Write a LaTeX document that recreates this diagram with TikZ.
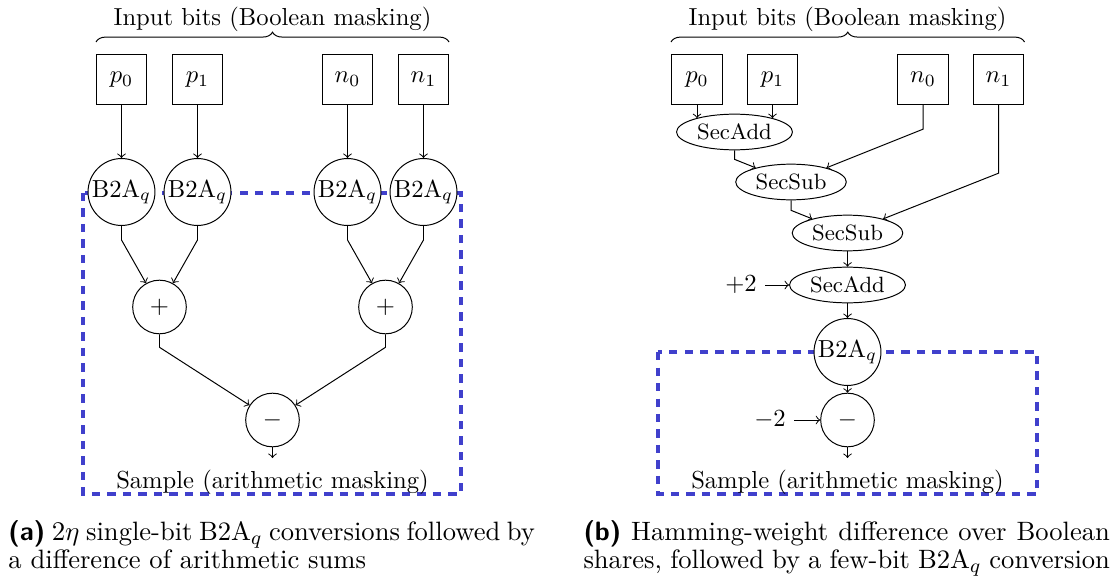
\documentclass[tikz,border=0pt]{standalone}
\usetikzlibrary{shapes.geometric,decorations.pathreplacing,calc}
\definecolor{dashblue}{RGB}{64,64,204}
\newcommand{\captlabel}[1]{{\fontseries{sbc}\sffamily #1}}
\begin{document}
\begin{tikzpicture}[x=0.4065pt,y=-0.4065pt,
  bitbox/.style={draw,minimum size=20.5pt,inner sep=0pt},
  conv/.style={draw,circle,fill=white,minimum size=27.2pt,inner sep=0pt},
  opc/.style={draw,circle,fill=white,minimum size=21.8pt,inner sep=0pt},
  secop/.style={draw,ellipse,fill=white,minimum height=14.5pt,inner xsep=1.5pt,inner ysep=0pt,font=\small},
  region/.style={draw=dashblue,dash pattern=on 3.3pt off 3pt,line width=1.3pt},
  bracedeco/.style={decorate,decoration={brace,amplitude=4pt}},
  lbl/.style={inner sep=0pt,anchor=base},
  capt/.style={anchor=base west,text width=214pt,align=justify,inner sep=0pt,font=\fontsize{10.8pt}{11.6pt}\selectfont}
]
\useasboundingbox (0,0) rectangle (1116,581);

% ---------------- panel (a) ----------------
\draw[region] (83,193) rectangle (461,494);
\node[lbl] (tA) at (272.5,26) {Input bits (Boolean masking)};
\draw[bracedeco] (96,42) -- (449,42);

\node[bitbox] (ap0) at (121.5,79.5) {$p_0$};
\node[bitbox] (ap1) at (197.5,79.5) {$p_1$};
\node[bitbox] (an0) at (347.5,79.5) {$n_0$};
\node[bitbox] (an1) at (423.5,79.5) {$n_1$};

\node[conv] (ab0) at (121.5,192) {B2A$_q$};
\node[conv] (ab1) at (197.5,192) {B2A$_q$};
\node[conv] (ab2) at (347.5,192) {B2A$_q$};
\node[conv] (ab3) at (423.5,192) {B2A$_q$};

\node[opc] (aplus1) at (159.5,307) {$+$};
\node[opc] (aplus2) at (385.5,307) {$+$};
\node[opc] (aminus) at (272.5,420) {$-$};
\coordinate (aout) at (272.5,458);
\node[lbl] (sA) at (272.5,488) {Sample (arithmetic masking)};

\draw[->] (ap0) -- (ab0);
\draw[->] (ap1) -- (ab1);
\draw[->] (an0) -- (ab2);
\draw[->] (an1) -- (ab3);
\draw[->] (ab0.south) -- ++(0,14) -- (aplus1);
\draw[->] (ab1.south) -- ++(0,14) -- (aplus1);
\draw[->] (ab2.south) -- ++(0,14) -- (aplus2);
\draw[->] (ab3.south) -- ++(0,14) -- (aplus2);
\draw[->] (aplus1.south) -- ++(0,13) -- (aminus);
\draw[->] (aplus2.south) -- ++(0,13) -- (aminus);
\draw[->] (aminus.south) -- (aout);

% ---------------- panel (b) ----------------
\draw[region] (658,352) rectangle (1037,494);
\node[lbl] (tB) at (847.5,26) {Input bits (Boolean masking)};
\draw[bracedeco] (671,42) -- (1024.5,42);

\node[bitbox] (bp0) at (697,79.5) {$p_0$};
\node[bitbox] (bp1) at (772.5,79.5) {$p_1$};
\node[bitbox] (bn0) at (923,79.5) {$n_0$};
\node[bitbox] (bn1) at (998.5,79.5) {$n_1$};

\node[secop] (badd1) at (734.5,132) {SecAdd};
\node[secop] (bsub1) at (791,182) {SecSub};
\node[secop] (bsub2) at (847.5,233) {SecSub};
\node[secop] (badd2) at (847.5,285) {SecAdd};
\node[conv] (bb2a) at (847.5,352) {B2A$_q$};
\node[opc] (bminus) at (847.5,420) {$-$};
\coordinate (bout) at (847.5,458);
\node (bplus2) at (741,285) {$+2$};
\node (bminus2) at (770,420) {$-2$};
\node[lbl] (sB) at (847.5,488) {Sample (arithmetic masking)};

\draw[->] (bp0.south) -- (bp0.south |- badd1.160);
\draw[->] (bp1.south) -- (bp1.south |- badd1.20);
\draw[->] (badd1.south) -- ++(0,9) -- (bsub1);
\draw[->] (bn0.south) -- ++(0,24) -- (bsub1);
\draw[->] (bsub1.south) -- ++(0,10) -- (bsub2);
\draw[->] (bn1.south) -- ++(0,68) -- (bsub2);
\draw[->] (bsub2) -- (badd2);
\draw[->] (bplus2) -- (badd2);
\draw[->] (badd2) -- (bb2a);
\draw[->] (bb2a) -- (bminus);
\draw[->] (bminus2) -- (bminus);
\draw[->] (bminus.south) -- (bout);

% ---------------- captions ----------------
\node[capt] (capA) at (8,540) {\captlabel{\textbf{(a)}} $2\eta$ single-bit B2A$_q$ conversions followed by\linebreak a difference of arithmetic sums};
\node[capt] (capB) at (583,540) {\captlabel{\textbf{(b)}} Hamming-weight difference over Boolean\linebreak shares, followed by a few-bit B2A$_q$ conversion};
\end{tikzpicture}
\end{document}
